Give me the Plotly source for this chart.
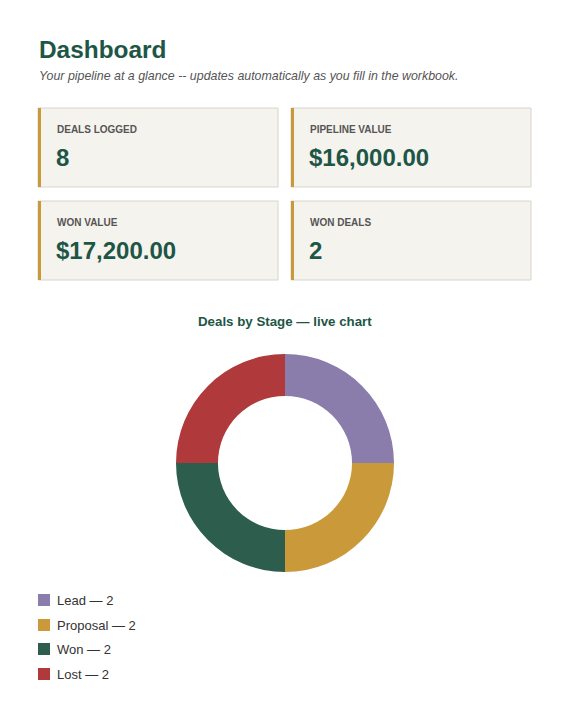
import plotly.graph_objects as go

# ---- data ----
kpi_labels = ["DEALS LOGGED", "PIPELINE VALUE", "WON VALUE", "WON DEALS"]
kpi_values = ["8", "$16,000.00", "$17,200.00", "2"]
stages = ["Lead", "Proposal", "Won", "Lost"]
stage_counts = [2, 2, 2, 2]
stage_colors = ["#8a7dab", "#c9993a", "#2d5e4d", "#b0393b"]

OFF = 8
W, H = 570 - 2 * OFF, 728 - 2 * OFF
FONT = "Liberation Sans, Arial, sans-serif"
GREEN = "#1e5646"

def px(x):
    return (x - OFF) / W

def py(y):
    return 1 - (y - OFF) / H

fig = go.Figure()

fig.add_trace(go.Pie(
    labels=stages,
    values=stage_counts,
    marker=dict(colors=stage_colors, line=dict(width=0)),
    hole=0.615,
    sort=False,
    direction="clockwise",
    rotation=0,
    textinfo="none",
    hoverinfo="label+value",
    domain=dict(x=[px(176), px(394)], y=[py(572), py(354)]),
    showlegend=False,
))

shapes = []
annotations = []

annotations.append(dict(text="<b>Dashboard</b>", x=px(36.5), y=py(50), xref="paper", yref="paper",
                        xanchor="left", yanchor="middle", showarrow=False,
                        font=dict(family=FONT, size=24.4, color=GREEN)))
annotations.append(dict(text="<i>Your pipeline at a glance -- updates automatically as you fill in the workbook.</i>",
                        x=px(36.5), y=py(76), xref="paper", yref="paper",
                        xanchor="left", yanchor="middle", showarrow=False,
                        font=dict(family=FONT, size=12.4, color="#555555")))

card_pos = [(38, 108), (291, 108), (38, 201), (291, 201)]
cw, ch = 240, 79
for (x0, y0), lab, val in zip(card_pos, kpi_labels, kpi_values):
    shapes.append(dict(type="rect", xref="paper", yref="paper",
                       x0=px(x0), x1=px(x0 + cw), y0=py(y0 + ch), y1=py(y0),
                       fillcolor="#f5f3ee", line=dict(color="#d8d4cb", width=1), layer="below"))
    shapes.append(dict(type="rect", xref="paper", yref="paper",
                       x0=px(x0), x1=px(x0 + 3), y0=py(y0 + ch), y1=py(y0),
                       fillcolor="#c99a3a", line=dict(width=0), layer="below"))
    annotations.append(dict(text="<b>" + lab + "</b>", x=px(x0 + 17), y=py(y0 + 21),
                            xref="paper", yref="paper", xanchor="left", yanchor="middle",
                            showarrow=False, font=dict(family=FONT, size=10, color="#555555")))
    annotations.append(dict(text="<b>" + val + "</b>", x=px(x0 + 16), y=py(y0 + 49),
                            xref="paper", yref="paper", xanchor="left", yanchor="middle",
                            showarrow=False, font=dict(family=FONT, size=24, color=GREEN)))

annotations.append(dict(text="<b>Deals by Stage — live chart</b>", x=px(285), y=py(321),
                        xref="paper", yref="paper", xanchor="center", yanchor="middle",
                        showarrow=False, font=dict(family=FONT, size=13.3, color=GREEN)))

row_y = [600, 625, 649, 674]
for yy, name, cnt, col in zip(row_y, stages, stage_counts, stage_colors):
    shapes.append(dict(type="rect", xref="paper", yref="paper",
                       x0=px(38), x1=px(50), y0=py(yy + 6), y1=py(yy - 6),
                       fillcolor=col, line=dict(width=0)))
    annotations.append(dict(text=f"{name} — {cnt}", x=px(55), y=py(yy),
                            xref="paper", yref="paper", xanchor="left", yanchor="middle",
                            showarrow=False, font=dict(family=FONT, size=13, color="#333333")))

fig.update_layout(
    width=W, height=H,
    margin=dict(l=0, r=0, t=0, b=0),
    paper_bgcolor="white", plot_bgcolor="white",
    shapes=shapes, annotations=annotations,
    font=dict(family=FONT),
)

fig.write_html("out.html")
